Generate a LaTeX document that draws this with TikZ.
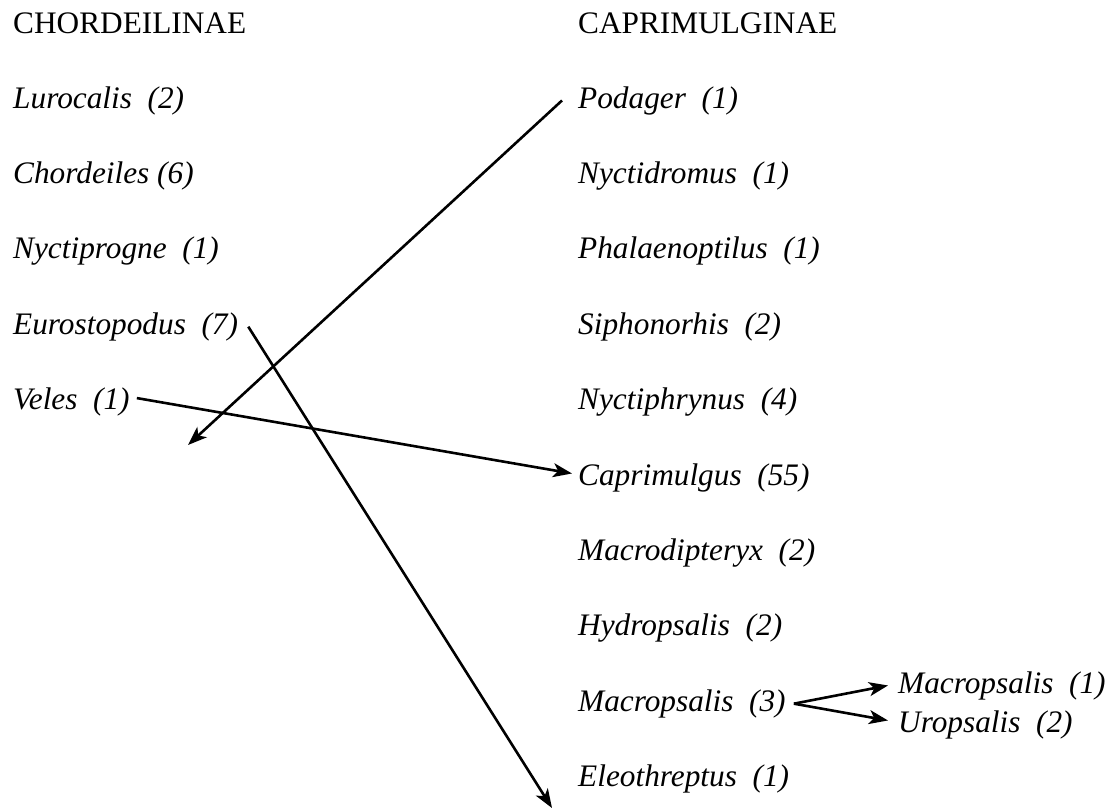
\documentclass[tikz,border=0pt]{standalone}
\usepackage{fontspec}
\setmainfont{Liberation Serif}
\usetikzlibrary{arrows.meta}

\begin{document}
\begin{tikzpicture}[x=1pt, y=-1pt,
  head/.style={anchor=base west, inner sep=0pt, font=\fontsize{31.3}{36}\selectfont},
  taxon/.style={anchor=base west, inner sep=0pt, font=\fontsize{31.3}{36}\selectfont\itshape},
  arr/.style={-{Stealth[length=19pt, width=14pt, inset=5pt]}, line width=2.6pt}
]
\useasboundingbox (0,0) rectangle (1111,809);
% left column
\node[head] (chord) at (13,33) {CHORDEILINAE};
\node[taxon] (luro) at (13,108) {Lurocalis~~(2)};
\node[taxon] (chordeiles) at (13,183.4) {Chordeiles (6)};
\node[taxon] (nyctiprogne) at (13,258.8) {Nyctiprogne~~(1)};
\node[taxon] (euro) at (13,334.2) {Eurostopodus~~(7)};
\node[taxon] (veles) at (13,409.6) {Veles~~(1)};
% right column
\node[head] (caprim) at (578,33) {CAPRIMULGINAE};
\node[taxon] (podager) at (578,108) {Podager~~(1)};
\node[taxon] (nyctidromus) at (578,183.4) {Nyctidromus~~(1)};
\node[taxon] (phalaen) at (578,258.8) {Phalaenoptilus~~(1)};
\node[taxon] (siphon) at (578,334.2) {Siphonorhis~~(2)};
\node[taxon] (nyctiphr) at (578,409.6) {Nyctiphrynus~~(4)};
\node[taxon] (caprimulgus) at (578,485) {Caprimulgus~~(55)};
\node[taxon] (macrodip) at (578,560.4) {Macrodipteryx~~(2)};
\node[taxon] (hydro) at (578,635.8) {Hydropsalis~~(2)};
\node[taxon] (macro) at (578,711.2) {Macropsalis~~(3)};
\node[taxon] (eleo) at (578,786.6) {Eleothreptus~~(1)};
% split of Macropsalis
\node[taxon] (macroone) at (898,693) {Macropsalis~~(1)};
\node[taxon] (uro) at (898,732) {Uropsalis~~(2)};
% moves between subfamilies
\coordinate (podend) at (188,445);
\coordinate (euroend) at (552,808);
\draw[arr] ([xshift=-16pt]podager.west) -- (podend);
\draw[arr] ([xshift=7pt,yshift=4pt]veles.east) -- ([xshift=-6pt,yshift=4pt]caprimulgus.west);
\draw[arr] ([xshift=10pt]euro.east) -- (euroend);
\draw[arr] ([xshift=8pt]macro.east) -- ([xshift=-10pt]macroone.west);
\draw[arr] ([xshift=8pt]macro.east) -- ([xshift=-10pt,yshift=4pt]uro.west);
\end{tikzpicture}
\end{document}
